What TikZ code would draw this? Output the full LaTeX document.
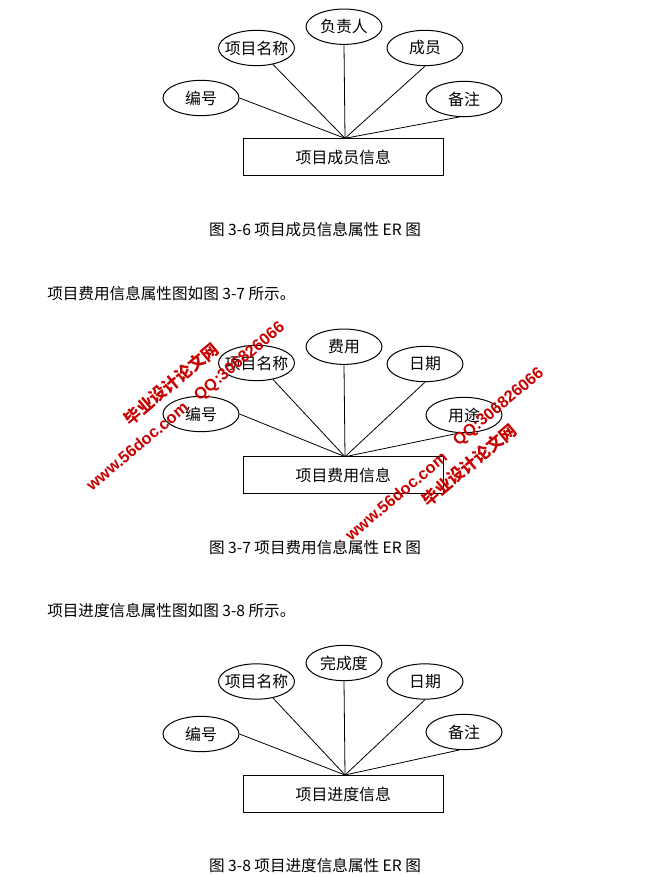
\documentclass[tikz,border=0pt]{standalone}
\usepackage{fontspec}
\usetikzlibrary{shapes.geometric}
\newfontfamily\cjk{Noto Sans CJK SC}
\newfontfamily\wmlat{Liberation Sans}
\definecolor{wmred}{RGB}{200,0,0}
\tikzset{
  attr/.style={draw, ellipse, line width=0.75pt, minimum width=57pt, minimum height=26.5pt, inner xsep=-8pt, inner ysep=-2pt, font=\cjk\fontsize{11.9}{13}\selectfont},
  ent/.style={draw, rectangle, line width=0.75pt, minimum width=150pt, minimum height=28pt, inner sep=0pt, font=\cjk\fontsize{11.9}{13}\selectfont},
  link/.style={line width=0.6pt},
  captext/.style={font=\cjk\fontsize{11.7}{14}\selectfont, inner sep=0pt},
  wm/.style={text=wmred, rotate=40, inner sep=0pt},
  wmcjk/.style={wm, font=\cjk\bfseries\fontsize{12.5}{14}\selectfont},
  wmlatin/.style={wm, font=\wmlat\bfseries\fontsize{12.2}{14}\selectfont}
}
\begin{document}
\begin{tikzpicture}[x=0.75pt,y=-0.75pt]
\useasboundingbox[fill=white] (0,0) rectangle (645,877);

% ---------- Diagram 3-6 ----------
\node[attr] (a1) at (201,98) {编号};
\node[attr] (a2) at (256.5,48) {项目名称};
\node[attr] (a3) at (344,26.7) {负责人};
\node[attr] (a4) at (425,48) {成员};
\node[attr] (a5) at (464,99) {备注};
\node[ent] (ra) at (343.3,157) {项目成员信息};
\coordinate (ha) at (345,138.3);
\draw[link] (a1.east) -- (ha);
\draw[link] (a2.-45) -- (ha);
\draw[link] (a3.south) -- (ha);
\draw[link] (a4.south) -- (ha);
\draw[link] (a5.-105) -- (ha);
\node[captext] (ca) at (315,230) {图 3-6 项目成员信息属性 ER 图};
\node[captext, anchor=west] (ta) at (47,294) {项目费用信息属性图如图 3-7 所示。};

% ---------- Diagram 3-7 ----------
\node[attr] (b1) at (201,414) {编号};
\node[attr] (b2) at (256.5,363) {项目名称};
\node[attr] (b3) at (344,346.7) {费用};
\node[attr] (b4) at (425,364) {日期};
\node[attr] (b5) at (464,415) {用途};
\node[ent] (rb) at (343.3,475) {项目费用信息};
\coordinate (hb) at (345,456.7);
\draw[link] (b1.east) -- (hb);
\draw[link] (b2.-45) -- (hb);
\draw[link] (b3.south) -- (hb);
\draw[link] (b4.south) -- (hb);
\draw[link] (b5.-105) -- (hb);
\node[captext] (cb) at (315,548) {图 3-7 项目费用信息属性 ER 图};
\node[captext, anchor=west] (tb) at (47,611) {项目进度信息属性图如图 3-8 所示。};

% ---------- Diagram 3-8 ----------
\node[attr] (c1) at (201,734) {编号};
\node[attr] (c2) at (256.5,681.5) {项目名称};
\node[attr] (c3) at (344,663) {完成度};
\node[attr] (c4) at (425,681.5) {日期};
\node[attr] (c5) at (464,732) {备注};
\node[ent] (rc) at (343.3,794) {项目进度信息};
\coordinate (hc) at (345,775);
\draw[link] (c1.east) -- (hc);
\draw[link] (c2.-45) -- (hc);
\draw[link] (c3.south) -- (hc);
\draw[link] (c4.south) -- (hc);
\draw[link] (c5.-105) -- (hc);
\node[captext] (cc) at (315,866) {图 3-8 项目进度信息属性 ER 图};

% ---------- Watermarks ----------
\node[wmcjk] (w1) at (171,384) {毕业设计论文网};
\node[wmlatin] (w2) at (137,446) {www.56doc.com};
\node[wmlatin] (w3) at (240,362) {QQ:306826066};
\node[wmlatin] (w4) at (499,407.5) {QQ:306826066};
\node[wmcjk] (w5) at (469,465) {毕业设计论文网};
\node[wmlatin] (w6) at (396,496) {www.56doc.com};
\end{tikzpicture}
\end{document}
